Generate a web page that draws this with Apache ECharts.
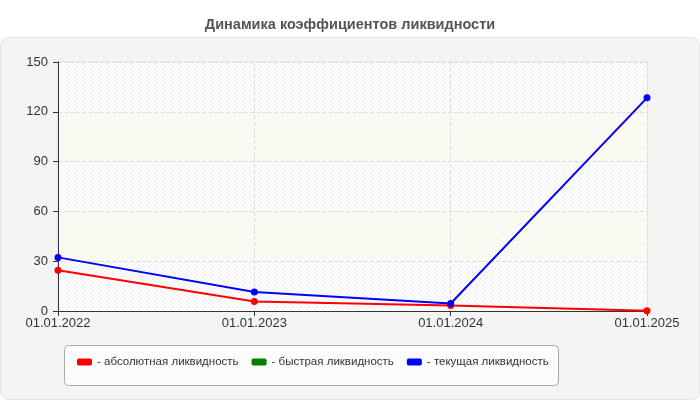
<!DOCTYPE html>
<html>
<head>
<meta charset="utf-8">
<script src="https://cdn.jsdelivr.net/npm/echarts@6/dist/echarts.min.js"></script>
<style>
  html, body { margin: 0; padding: 0; background: #fff; }
  #chart { width: 700px; height: 400px; }
</style>
</head>
<body>
<div id="chart"></div>
<script>
// даты на оси X
var dates = ['01.01.2022', '01.01.2023', '01.01.2024', '01.01.2025'];
// коэффициенты
var absLiq = [24.5, 5.7, 3.3, 0.2];
var quickLiq = []; // в исходнике линия не видна
var currLiq = [32.3, 11.4, 4.5, 128.4];
var yTicks = [0, 30, 60, 90, 120, 150];

// штриховка фона
function hatch(base, line){
    var c = document.createElement('canvas');
    c.width = 4; c.height = 4;
    var ctx = c.getContext('2d');
    ctx.fillStyle = base;
    ctx.fillRect(0, 0, 4, 4);
    ctx.strokeStyle = line;
    ctx.lineWidth = 1;
    ctx.beginPath();
    ctx.moveTo(0, 4); ctx.lineTo(4, 0);
    ctx.moveTo(-1, 1); ctx.lineTo(1, -1);
    ctx.moveTo(3, 5); ctx.lineTo(5, 3);
    ctx.stroke();
    return { image: c, repeat: 'repeat' };
}

var chart = echarts.init(document.getElementById('chart'));
var option = {
    backgroundColor: '#fff',
    animation: false,
    textStyle: { fontFamily: 'Liberation Sans, Arial, sans-serif' },
    title: {
        text: 'Динамика коэффициентов ликвидности',
        left: 'center',
        top: 12,
        textStyle: { fontSize: 14.5, fontWeight: 'bold', color: '#555' }
    },
    graphic: [
        {
            type: 'rect', z: -10, silent: true,
            shape: { x: 0.5, y: 37.5, width: 699, height: 362, r: 8 },
            style: { fill: '#f4f4f4', stroke: '#e4e4e4', lineWidth: 1 }
        },
        {
            type: 'rect', z: -5, silent: true,
            shape: { x: 64.5, y: 345.5, width: 494, height: 40, r: 4 },
            style: { fill: '#fcfcfc', stroke: '#aaaaaa', lineWidth: 1 }
        }
    ],
    legend: {
        left: 72,
        top: 351,
        itemWidth: 15,
        itemHeight: 7,
        itemGap: 13,
        icon: 'roundRect',
        formatter: function(n){ return '- ' + n; },
        textStyle: { fontSize: 11.5, color: '#333', padding: [0, 0, 0, 0] },
        data: ['абсолютная ликвидность', 'быстрая ликвидность', 'текущая ликвидность']
    },
    grid: {
        left: 58, right: 53, top: 62, bottom: 89,
        show: true,
        borderColor: '#dddddd',
        borderWidth: 1,
        backgroundColor: 'transparent'
    },
    xAxis: {
        type: 'category',
        boundaryGap: false,
        data: dates,
        axisLine: { lineStyle: { color: '#333' } },
        axisTick: { show: true, length: 5, lineStyle: { color: '#333' } },
        axisLabel: { color: '#333', fontSize: 13, margin: 6 },
        splitLine: { show: true, lineStyle: { color: '#dddddd', type: 'dashed' } }
    },
    yAxis: {
        type: 'value',
        min: yTicks[0],
        max: yTicks[yTicks.length - 1],
        interval: 30,
        axisLine: { show: true, lineStyle: { color: '#333' } },
        axisTick: { show: true, length: 5, lineStyle: { color: '#333' } },
        axisLabel: { color: '#333', fontSize: 13, margin: 10 },
        splitLine: { show: true, lineStyle: { color: '#dddddd', type: 'dashed' } },
        splitArea: {
            show: true,
            areaStyle: { color: [hatch('#ffffff', '#eeeeee'), hatch('#fdfdf6', '#f3f3ec')] }
        }
    },
    series: [
        {
            name: 'абсолютная ликвидность',
            type: 'line',
            data: absLiq,
            color: '#ff0000',
            symbol: 'circle',
            symbolSize: 7,
            lineStyle: { width: 2 }
        },
        {
            name: 'быстрая ликвидность',
            type: 'line',
            data: quickLiq,
            color: '#008000',
            symbol: 'circle',
            symbolSize: 7,
            lineStyle: { width: 2 }
        },
        {
            name: 'текущая ликвидность',
            type: 'line',
            data: currLiq,
            color: '#0000ff',
            symbol: 'circle',
            symbolSize: 7,
            lineStyle: { width: 2 }
        }
    ]
};
chart.setOption(option);
</script>
</body>
</html>
